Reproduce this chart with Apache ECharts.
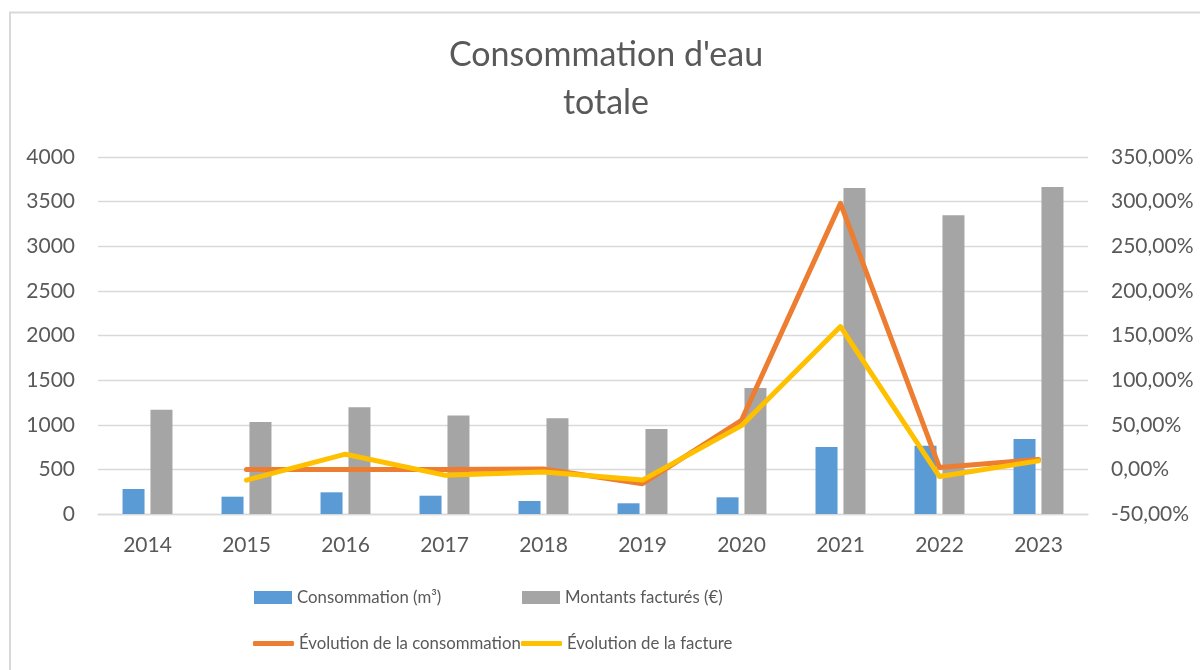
<!DOCTYPE html>
<html>
<head>
<meta charset="utf-8">
<title>Consommation d'eau totale</title>
<script src="https://cdn.jsdelivr.net/npm/echarts@6/dist/echarts.min.js"></script>
<style>
  html, body { margin: 0; padding: 0; background: #fff; }
  #chart { width: 1200px; height: 670px; }
</style>
</head>
<body>
<div id="chart"></div>
<script>
const years = ['2014', '2015', '2016', '2017', '2018', '2019', '2020', '2021', '2022', '2023']
const consommation = [280, 194, 243, 205, 146, 120, 187, 750, 765, 840]
const montants = [1168, 1030, 1195, 1105, 1072, 952, 1411, 3654, 3348, 3665]
// evolutions in percent, nothing for the first year
const evolConso = [null, 0, 0, 0, 0.5, -16, 55, 298, 2, 11]
const evolFacture = [null, -12, 17, -6.5, -3, -12, 49, 160, -8, 9.5]

const textColor = '#595959'
const font = 'Lato'

const chart = echarts.init(document.getElementById('chart'))

const legendItem = (name, left, top, icon, w, h) => ({
  left, top,
  padding: 0,
  itemWidth: w,
  itemHeight: h,
  data: [{ name, icon }],
  textStyle: { color: textColor, fontFamily: font, fontSize: 16.8 }
})

const option = {
  animation: false,
  textStyle: { fontFamily: font },
  title: {
    text: "Consommation d'eau\ntotale",
    left: 606,
    top: 31,
    textAlign: 'center',
    padding: 0,
    textStyle: {
      color: textColor,
      fontFamily: font,
      fontSize: 34,
      fontWeight: 'normal',
      lineHeight: 48
    }
  },
  graphic: [{
    type: 'rect',
    shape: { x: 10, y: 12.5, width: 1300, height: 800 },
    style: { fill: null, stroke: '#d9d9d9', lineWidth: 2 },
    silent: true
  }],
  legend: [
    legendItem('Consommation (m³)', 254, 589, 'rect', 38, 13),
    legendItem('Montants facturés (€)', 522, 589, 'rect', 38, 13),
    legendItem('Évolution de la consommation', 253, 635, 'roundRect', 41, 5),
    legendItem('Évolution de la facture', 521, 635, 'roundRect', 41, 5)
  ],
  grid: { left: 98, right: 112, top: 157, bottom: 156, containLabel: false },
  xAxis: {
    type: 'category',
    data: years,
    axisTick: { show: false },
    axisLine: { lineStyle: { color: '#d9d9d9', width: 1.3 } },
    axisLabel: { color: textColor, fontSize: 21, margin: 21 }
  },
  yAxis: [
    {
      type: 'value',
      min: 0,
      max: 4000,
      interval: 500,
      axisLine: { show: false },
      axisTick: { show: false },
      axisLabel: { color: textColor, fontSize: 21, margin: 23, formatter: v => String(v) },
      splitLine: { lineStyle: { color: '#d9d9d9', width: 1.3 } }
    },
    {
      type: 'value',
      min: -50,
      max: 350,
      interval: 50,
      axisLine: { show: false },
      axisTick: { show: false },
      splitLine: { show: false },
      axisLabel: {
        color: textColor,
        fontSize: 21,
        margin: 23,
        formatter: v => v.toFixed(2).replace('.', ',') + '%'
      }
    }
  ],
  series: [
    {
      name: 'Consommation (m³)',
      type: 'bar',
      data: consommation,
      barWidth: 22,
      barGap: '27%',
      itemStyle: { color: '#5B9BD5' }
    },
    {
      name: 'Montants facturés (€)',
      type: 'bar',
      data: montants,
      barWidth: 22,
      itemStyle: { color: '#A5A5A5' }
    },
    {
      name: 'Évolution de la consommation',
      type: 'line',
      yAxisIndex: 1,
      data: evolConso,
      showSymbol: false,
      symbol: 'none',
      itemStyle: { color: '#ED7D31' },
      lineStyle: { color: '#ED7D31', width: 5, cap: 'round', join: 'round' }
    },
    {
      name: 'Évolution de la facture',
      type: 'line',
      yAxisIndex: 1,
      data: evolFacture,
      showSymbol: false,
      symbol: 'none',
      itemStyle: { color: '#FFC000' },
      lineStyle: { color: '#FFC000', width: 5, cap: 'round', join: 'round' }
    }
  ]
}

chart.setOption(option)
</script>
</body>
</html>
